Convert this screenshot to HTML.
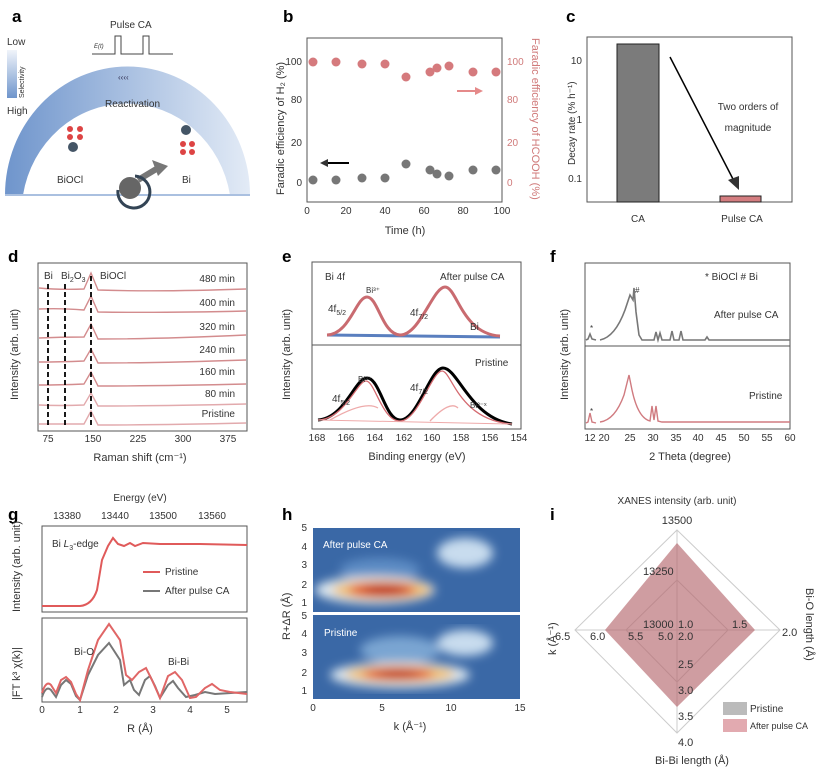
<!DOCTYPE html>
<html><head><meta charset="utf-8"><style>
body{margin:0;background:#fff}
svg{display:block;font-family:"Liberation Sans",sans-serif}
</style></head><body>
<svg width="822" height="771" viewBox="0 0 822 771">
<defs>
<linearGradient id="arcg" x1="0" x2="1"><stop offset="0" stop-color="#6f95cc"/><stop offset="1" stop-color="#e3ebf6"/></linearGradient>
<linearGradient id="selg" x1="0" x2="0" y1="0" y2="1"><stop offset="0" stop-color="#f0f4fa"/><stop offset="1" stop-color="#6f95cc"/></linearGradient>
<filter id="bl"><feGaussianBlur stdDeviation="5"/></filter>
<clipPath id="h1"><rect x="313" y="528" width="207" height="84"/></clipPath>
<clipPath id="h2"><rect x="313" y="615" width="207" height="84"/></clipPath>
</defs>
<g font-weight="bold" font-size="17">
<text x="12" y="22">a</text><text x="283" y="22">b</text><text x="566" y="22">c</text>
<text x="8" y="262">d</text><text x="282" y="262">e</text><text x="550" y="262">f</text>
<text x="8" y="520">g</text><text x="282" y="520">h</text><text x="550" y="520">i</text>
</g>
<!-- a -->
<g font-size="10" fill="#333">
<text x="110" y="28">Pulse CA</text>
<path d="M92 54H115V36H121V54H143V36H149V54H173" fill="none" stroke="#444" stroke-width="1"/>
<text x="94" y="48" font-size="6" font-style="italic">E(t)</text>
<text x="7" y="45">Low</text><text x="7" y="114">High</text>
<rect x="7" y="50" width="10" height="48" fill="url(#selg)"/>
<text transform="translate(24,98) rotate(-90)" font-size="7">Selectivity</text>
<path d="M5 195A122 128 0 0 1 250 195H230A105 110 0 0 0 23 195Z" fill="url(#arcg)"/>
<line x1="5" y1="195" x2="250" y2="195" stroke="#aac0e0" stroke-width="2"/>
<text x="105" y="107">Reactivation</text>
<text x="118" y="80" font-size="8" fill="#335">‹‹‹‹</text>
<g fill="#d44"><circle cx="70" cy="129" r="3"/><circle cx="80" cy="129" r="3"/><circle cx="70" cy="137" r="3"/><circle cx="80" cy="137" r="3"/><circle cx="183" cy="144" r="3"/><circle cx="192" cy="144" r="3"/><circle cx="183" cy="152" r="3"/><circle cx="192" cy="152" r="3"/></g>
<circle cx="73" cy="147" r="5" fill="#456"/><circle cx="186" cy="130" r="5" fill="#456"/>
<text x="57" y="183">BiOCl</text><text x="182" y="183">Bi</text>
<circle cx="130" cy="188" r="11" fill="#666"/>
<path d="M138 180L158 168" stroke="#777" stroke-width="6"/><path d="M152 160L168 166L158 176Z" fill="#777"/>
<path d="M118 190A16 16 0 1 0 135 176" fill="none" stroke="#345" stroke-width="3"/>
</g>
<!-- b -->
<g font-size="10" fill="#333">
<rect x="307" y="38" width="195" height="164" fill="none" stroke="#555"/>
<g text-anchor="end"><text x="302" y="65">100</text><text x="302" y="103">80</text><text x="302" y="146">20</text><text x="302" y="186">0</text></g>
<g fill="#d07a7a"><text x="507" y="65">100</text><text x="507" y="103">80</text><text x="507" y="146">20</text><text x="507" y="186">0</text></g>
<g text-anchor="middle"><text x="307" y="214">0</text><text x="346" y="214">20</text><text x="385" y="214">40</text><text x="424" y="214">60</text><text x="463" y="214">80</text><text x="502" y="214">100</text>
<text x="405" y="234" font-size="11">Time (h)</text></g>
<text transform="translate(284,195) rotate(-90)" font-size="11">Faradic efficiency of H₂ (%)</text>
<text transform="translate(532,38) rotate(90)" font-size="11" fill="#d07a7a">Faradic efficiency of HCOOH (%)</text>
<g fill="#d57a7d"><circle cx="313" cy="62" r="4.5"/><circle cx="336" cy="62" r="4.5"/><circle cx="362" cy="64" r="4.5"/><circle cx="385" cy="64" r="4.5"/><circle cx="406" cy="77" r="4.5"/><circle cx="430" cy="72" r="4.5"/><circle cx="437" cy="68" r="4.5"/><circle cx="449" cy="66" r="4.5"/><circle cx="473" cy="72" r="4.5"/><circle cx="496" cy="72" r="4.5"/></g>
<g fill="#777"><circle cx="313" cy="180" r="4.5"/><circle cx="336" cy="180" r="4.5"/><circle cx="362" cy="178" r="4.5"/><circle cx="385" cy="178" r="4.5"/><circle cx="406" cy="164" r="4.5"/><circle cx="430" cy="170" r="4.5"/><circle cx="437" cy="174" r="4.5"/><circle cx="449" cy="176" r="4.5"/><circle cx="473" cy="170" r="4.5"/><circle cx="496" cy="170" r="4.5"/></g>
<path d="M349 163H324" stroke="#000" stroke-width="2"/><path d="M320 163l8-4v8z"/>
<path d="M457 91H478" stroke="#e58a8a" stroke-width="2"/><path d="M483 91l-8-4v8z" fill="#e58a8a"/>
</g>
<!-- c -->
<g font-size="10" fill="#333">
<rect x="587" y="37" width="205" height="165" fill="none" stroke="#555"/>
<rect x="617" y="44" width="42" height="158" fill="#7b7b7b" stroke="#222"/>
<rect x="720" y="196" width="41" height="6" fill="#d47d80" stroke="#222"/>
<g text-anchor="end"><text x="582" y="64">10</text><text x="582" y="123">1</text><text x="582" y="182">0.1</text></g>
<text x="638" y="222" text-anchor="middle">CA</text><text x="742" y="222" text-anchor="middle">Pulse CA</text>
<text x="748" y="110" text-anchor="middle">Two orders of</text><text x="748" y="131" text-anchor="middle">magnitude</text>
<path d="M670 57L734 181" stroke="#000" stroke-width="1.5"/><path d="M739 190L728 180L739 176Z"/>
<text transform="translate(575,165) rotate(-90)">Decay rate (% h⁻¹)</text>
</g>
<!-- d -->
<g font-size="10" fill="#333">
<rect x="38" y="263" width="209" height="168" fill="none" stroke="#555"/>
<g fill="none" stroke="#d38c8e" stroke-width="1.4">
<path d="M39 288Q60 290 84 289L91 273L98 290Q160 292 246 289"/>
<path d="M39 309Q60 308 84 310L91 296L98 312Q160 313 246 311"/>
<path d="M39 338Q60 337 84 337L91 324L98 339Q160 339 246 335"/>
<path d="M39 362Q60 362 84 361L91 349L98 363Q160 363 246 360"/>
<path d="M39 385Q60 385 84 384L91 372L98 386Q160 386 246 384"/>
<path d="M39 405Q60 406 84 405L91 393L98 406Q160 406 246 404" stroke="#e2aaad"/>
<path d="M39 424Q60 424 84 424L91 411L98 425Q160 425 246 423" stroke="#e2aaad"/>
</g>
<g stroke="#000" stroke-width="1.8" stroke-dasharray="5,3"><path d="M48 284V428M65 284V428M91 276V428"/></g>
<text x="44" y="279">Bi</text><text x="61" y="279">Bi<tspan font-size="7" dy="3">2</tspan><tspan dy="-3">O</tspan><tspan font-size="7" dy="3">3</tspan></text><text x="100" y="279">BiOCl</text>
<g text-anchor="end"><text x="235" y="282">480 min</text><text x="235" y="306">400 min</text><text x="235" y="330">320 min</text><text x="235" y="353">240 min</text><text x="235" y="375">160 min</text><text x="235" y="397">80 min</text><text x="235" y="417">Pristine</text></g>
<g text-anchor="middle"><text x="48" y="442">75</text><text x="93" y="442">150</text><text x="138" y="442">225</text><text x="183" y="442">300</text><text x="228" y="442">375</text></g>
<text x="140" y="461" text-anchor="middle" font-size="11">Raman shift (cm⁻¹)</text>
<text transform="translate(18,400) rotate(-90)" font-size="11">Intensity (arb. unit)</text>
</g>
<!-- e -->
<g font-size="10" fill="#333">
<rect x="312" y="262" width="209" height="167" fill="none" stroke="#555"/>
<line x1="312" y1="345" x2="521" y2="345" stroke="#555"/>
<path d="M327 335Q400 336 500 337" stroke="#5a7fbf" stroke-width="3" fill="none"/>
<path d="M327 335C350 334 356 297 367 297C378 297 382 334 400 335C420 335 433 287 445 287C457 287 462 334 500 336" fill="none" stroke="#c96b70" stroke-width="3"/>
<path d="M318 420C345 418 355 378 367 378C380 378 385 420 400 420C418 420 430 368 443 368C458 368 470 418 512 424" fill="none" stroke="#000" stroke-width="3"/>
<path d="M318 420C345 419 357 381 366 381C375 381 382 421 400 421C418 421 432 371 442 371C452 371 458 420 512 424" fill="none" stroke="#d46a70" stroke-width="1.3"/>
<path d="M330 420Q365 400 378 408M430 421Q450 400 458 408" fill="none" stroke="#eaa" stroke-width="1.3"/>
<path d="M318 420L512 424" stroke="#eaa" stroke-width="1"/>
<text x="325" y="280">Bi 4f</text><text x="440" y="280">After pulse CA</text>
<text x="366" y="293" font-size="8">Bi³⁺</text><text x="328" y="312">4f<tspan font-size="7" dy="3">5/2</tspan></text><text x="410" y="316">4f<tspan font-size="7" dy="3">7/2</tspan></text><text x="470" y="330">Bi</text>
<text x="475" y="366">Pristine</text><text x="358" y="382" font-size="8">Bi³⁺</text><text x="332" y="402">4f<tspan font-size="7" dy="3">5/2</tspan></text><text x="410" y="391">4f<tspan font-size="7" dy="3">7/2</tspan></text><text x="470" y="408" font-size="8">Bi³⁻ˣ</text>
<g text-anchor="middle"><text x="317" y="441">168</text><text x="346" y="441">166</text><text x="375" y="441">164</text><text x="404" y="441">162</text><text x="432" y="441">160</text><text x="461" y="441">158</text><text x="490" y="441">156</text><text x="519" y="441">154</text></g>
<text x="417" y="460" text-anchor="middle" font-size="11">Binding energy (eV)</text>
<text transform="translate(290,400) rotate(-90)" font-size="11">Intensity (arb. unit)</text>
</g>
<!-- f -->
<g font-size="10" fill="#333">
<rect x="585" y="263" width="205" height="166" fill="none" stroke="#555"/>
<line x1="585" y1="346" x2="790" y2="346" stroke="#555"/>
<path d="M586 340L588 339L590 334L592 339L596 340M600 340Q615 337 625 310L630 295L633 300L634 288L636 312L639 335L642 340H654L656 332L658 340L660 333L662 340H670L672 331L674 340L679 340L681 331L683 340H705L707 337L709 340H790" fill="none" stroke="#777" stroke-width="1.6"/>
<path d="M586 423L588 422L590 413L592 422L596 423M600 422Q615 420 624 395L629 375L632 390Q638 418 650 421L652 406L654 420L656 406L658 421L662 422H790" fill="none" stroke="#d07b80" stroke-width="1.4"/>
<text x="705" y="280">* BiOCl   # Bi</text><text x="714" y="318">After pulse CA</text><text x="749" y="399">Pristine</text>
<text x="590" y="331" font-size="8">*</text><text x="590" y="414" font-size="8">*</text><text x="635" y="293" font-size="8">#</text>
<g text-anchor="middle"><text x="590" y="441">12</text><text x="604" y="441">20</text><text x="630" y="441">25</text><text x="653" y="441">30</text><text x="676" y="441">35</text><text x="698" y="441">40</text><text x="721" y="441">45</text><text x="744" y="441">50</text><text x="767" y="441">55</text><text x="790" y="441">60</text></g>
<text x="690" y="460" text-anchor="middle" font-size="11">2 Theta (degree)</text>
<text transform="translate(568,400) rotate(-90)" font-size="11">Intensity (arb. unit)</text>
</g>
<!-- g -->
<g font-size="10" fill="#333">
<text x="140" y="501" text-anchor="middle">Energy (eV)</text>
<g text-anchor="middle"><text x="67" y="519">13380</text><text x="115" y="519">13440</text><text x="163" y="519">13500</text><text x="212" y="519">13560</text></g>
<rect x="42" y="526" width="205" height="86" fill="none" stroke="#555"/>
<rect x="42" y="618" width="205" height="84" fill="none" stroke="#555"/>
<path d="M42 606H80Q92 605 97 590L102 560L108 546L113 538L118 544L124 546L130 543L135 546L143 543L160 544L200 544L247 545" fill="none" stroke="#e05a5a" stroke-width="2"/>
<path d="M42 697Q46 685 51 690L56 697L61 685L66 680L71 684L76 696L80 700L88 675L98 655L109 643L120 660L124 685L130 680L134 690L139 695L145 680L150 676L155 686L160 698L168 685L173 681L178 688L186 697L195 695L205 692L215 694L247 692" fill="none" stroke="#777" stroke-width="2"/>
<path d="M42 693Q46 680 51 685L56 693L61 680L66 677L71 682L76 694L80 700L88 670L98 640L109 624L120 640L126 675L132 680L139 672L146 668L152 680L160 698L168 676L175 672L182 680L190 698L196 697L205 688L212 684L220 690L230 692L247 694" fill="none" stroke="#e06666" stroke-width="2"/>
<text x="52" y="547">Bi <tspan font-style="italic">L</tspan><tspan font-size="7" dy="3">3</tspan><tspan dy="-3">-edge</tspan></text>
<path d="M143 572H160" stroke="#e05a5a" stroke-width="2"/><text x="165" y="575">Pristine</text>
<path d="M143 591H160" stroke="#777" stroke-width="2"/><text x="165" y="594">After pulse CA</text>
<text x="74" y="655">Bi-O</text><text x="168" y="665">Bi-Bi</text>
<g text-anchor="middle"><text x="42" y="713">0</text><text x="80" y="713">1</text><text x="116" y="713">2</text><text x="153" y="713">3</text><text x="190" y="713">4</text><text x="227" y="713">5</text></g>
<text x="140" y="732" text-anchor="middle" font-size="11">R (Å)</text>
<text transform="translate(20,612) rotate(-90)" font-size="11">Intensity (arb. unit)</text>
<text transform="translate(20,700) rotate(-90)" font-size="11">|FT k³ χ(k)|</text>
</g>
<!-- h -->
<g font-size="10" fill="#333">
<g clip-path="url(#h1)"><rect x="313" y="528" width="207" height="84" fill="#3a68a6"/>
<g filter="url(#bl)"><ellipse cx="465" cy="553" rx="28" ry="15" fill="#c8dcee"/><ellipse cx="380" cy="570" rx="40" ry="12" fill="#5d8cc4"/><ellipse cx="375" cy="590" rx="60" ry="14" fill="#dde8f0"/><ellipse cx="382" cy="590" rx="50" ry="10" fill="#f0c070"/><ellipse cx="382" cy="590" rx="34" ry="7" fill="#e05020"/><ellipse cx="385" cy="590" rx="22" ry="5" fill="#b8201a"/></g></g>
<g clip-path="url(#h2)"><rect x="313" y="615" width="207" height="84" fill="#3a68a6"/>
<g filter="url(#bl)"><ellipse cx="465" cy="643" rx="28" ry="13" fill="#c8dcee"/><ellipse cx="400" cy="650" rx="40" ry="14" fill="#7aa5d2"/><ellipse cx="400" cy="675" rx="70" ry="13" fill="#dde8f0"/><ellipse cx="400" cy="674" rx="55" ry="9" fill="#f0c070"/><ellipse cx="398" cy="674" rx="36" ry="6" fill="#e05020"/><ellipse cx="398" cy="674" rx="22" ry="4" fill="#b8201a"/></g></g>
<line x1="313" y1="613.5" x2="520" y2="613.5" stroke="#fff" stroke-width="2"/>
<text x="323" y="548" fill="#fff">After pulse CA</text><text x="324" y="636" fill="#fff">Pristine</text>
<g text-anchor="end"><text x="307" y="531">5</text><text x="307" y="550">4</text><text x="307" y="568">3</text><text x="307" y="588">2</text><text x="307" y="606">1</text><text x="307" y="619">5</text><text x="307" y="637">4</text><text x="307" y="656">3</text><text x="307" y="676">2</text><text x="307" y="694">1</text></g>
<g text-anchor="middle"><text x="313" y="711">0</text><text x="382" y="711">5</text><text x="451" y="711">10</text><text x="520" y="711">15</text></g>
<text x="410" y="730" text-anchor="middle" font-size="11">k (Å⁻¹)</text>
<text transform="translate(290,640) rotate(-90)" font-size="11">R+ΔR (Å)</text>
</g>
<!-- i -->
<g font-size="10" fill="#333">
<text x="677" y="504" text-anchor="middle">XANES intensity (arb. unit)</text>
<path d="M677 530L780 630L677 733L575 630Z" fill="none" stroke="#ccc"/>
<path d="M677 580L728 630L677 682L626 630Z" fill="none" stroke="#ccc"/>
<path d="M677 530V733M575 630H780" stroke="#ccc"/>
<path d="M677 543L755 630L677 707L605 630Z" fill="#b5696f" fill-opacity="0.65"/>
<text x="677" y="524" text-anchor="middle" font-size="11">13500</text><text x="643" y="575" font-size="11">13250</text><text x="643" y="628" font-size="11">13000</text>
<text x="678" y="628" font-size="11">1.0</text><text x="732" y="628" font-size="11">1.5</text><text x="782" y="636" font-size="11">2.0</text>
<text x="555" y="640" font-size="11">6.5</text><text x="590" y="640" font-size="11">6.0</text><text x="628" y="640" font-size="11">5.5</text><text x="658" y="640" font-size="11">5.0</text><text x="678" y="640" font-size="11">2.0</text>
<text x="678" y="668" font-size="11">2.5</text><text x="678" y="694" font-size="11">3.0</text><text x="678" y="720" font-size="11">3.5</text><text x="678" y="746" font-size="11">4.0</text>
<text x="692" y="764" text-anchor="middle" font-size="11">Bi-Bi length (Å)</text>
<text transform="translate(806,588) rotate(90)" font-size="11">Bi-O length (Å)</text>
<text transform="translate(556,655) rotate(-90)" font-size="11">k (Å⁻¹)</text>
<rect x="723" y="702" width="24" height="13" fill="#bbb"/><text x="750" y="712">Pristine</text>
<rect x="723" y="719" width="24" height="13" fill="#e2aab0"/><text x="750" y="729" font-size="9">After pulse CA</text>
</g>
</svg>
</body></html>
